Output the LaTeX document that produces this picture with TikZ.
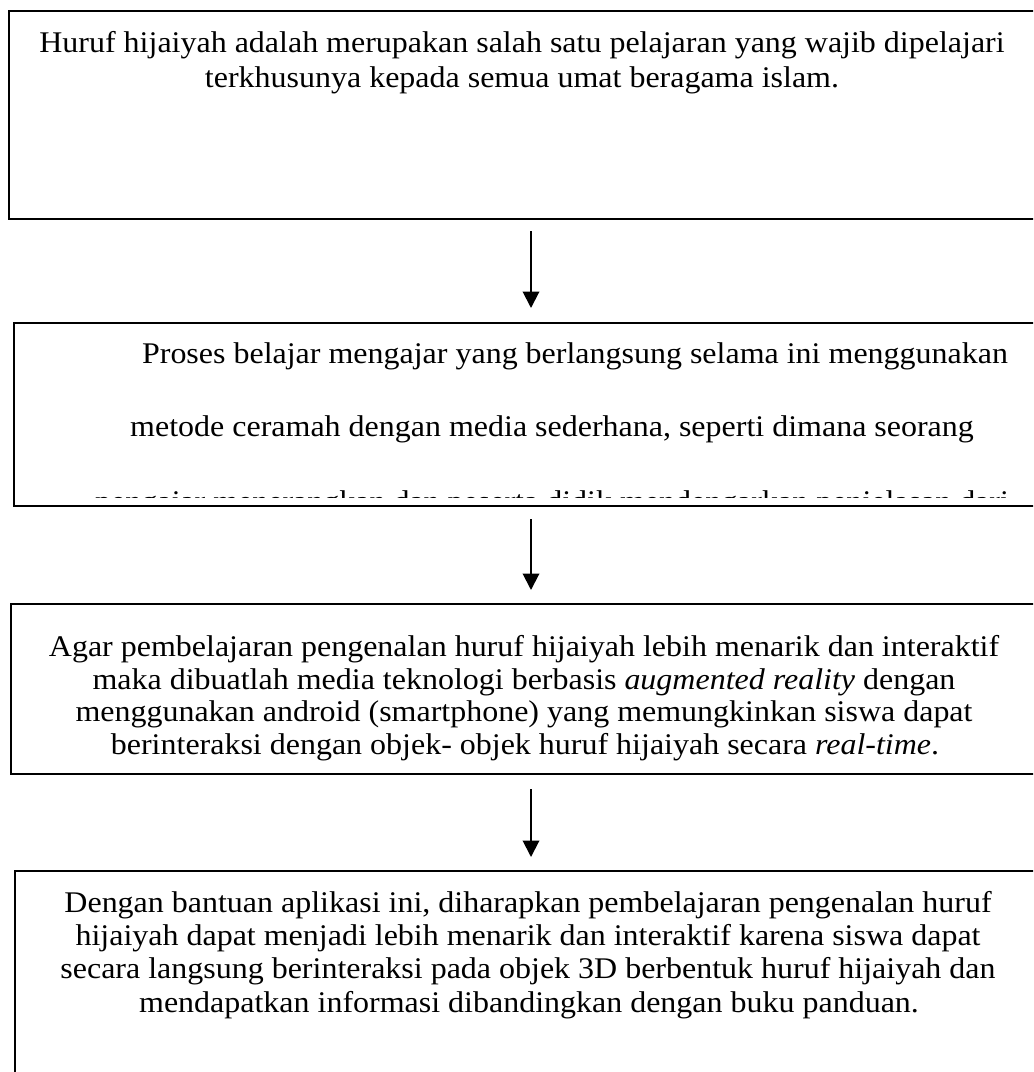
\documentclass[tikz,border=0pt]{standalone}
\usepackage{fontspec}
\setmainfont[FakeStretch=1.066]{Liberation Serif}
\usetikzlibrary{arrows.meta}
\tikzset{
  box/.style={draw=black, line width=0.9pt, rectangle, inner sep=0pt, anchor=north west},
  txt/.style={inner sep=0pt, anchor=base, font=\fontsize{12}{14}\selectfont},
  arr/.style={draw=black, line width=0.8pt, -{Triangle[width=6.6pt,length=6.6pt]}}
}
\begin{document}
\begin{tikzpicture}[x=0.4pt,y=-0.4pt]
\useasboundingbox (0,0) rectangle (1033,1072);
\clip (0,0) rectangle (1033,1072);
% boxes
\node[box, minimum width=1092*0.4pt, minimum height=208*0.4pt] (b1) at (8,10) {};
\node[box, minimum width=1087*0.4pt, minimum height=183*0.4pt] (b2) at (13,322) {};
\node[box, minimum width=1090*0.4pt, minimum height=170*0.4pt] (b3) at (10,603) {};
\node[box, minimum width=1086*0.4pt, minimum height=250*0.4pt] (b4) at (14,870) {};
% box 1 text
\node[txt] (t11) at (522,53) {Huruf hijaiyah adalah merupakan salah satu pelajaran yang wajib dipelajari};
\node[txt] (t12) at (522,88) {terkhusunya kepada semua umat beragama islam.};
% box 2 text (clipped)
\begin{scope}
\clip (13,322) rectangle (1100,497);
\node[txt] (t21) at (575,363) {Proses belajar mengajar yang berlangsung selama ini menggunakan};
\node[txt] (t22) at (552,436) {metode ceramah dengan media sederhana, seperti dimana seorang};
\node[txt] (t23) at (552,511) {pengajar menerangkan dan peserta didik mendengarkan penjelasan dari};
\end{scope}
% box 3 text
\node[txt] (t31) at (524,656) {Agar pembelajaran pengenalan huruf hijaiyah lebih menarik dan interaktif};
\node[txt] (t32) at (524,689) {maka dibuatlah media teknologi berbasis \textit{augmented reality} dengan};
\node[txt] (t33) at (524,721) {menggunakan android (smartphone) yang memungkinkan siswa dapat};
\node[txt] (t34) at (525,754) {berinteraksi dengan objek- objek huruf hijaiyah secara \textit{real-time}.};
% box 4 text
\node[txt] (t41) at (528,912) {Dengan bantuan aplikasi ini, diharapkan pembelajaran pengenalan huruf};
\node[txt] (t42) at (528,945) {hijaiyah dapat menjadi lebih menarik dan interaktif karena siswa dapat};
\node[txt] (t43) at (528,978) {secara langsung berinteraksi pada objek 3D berbentuk huruf hijaiyah dan};
\node[txt] (t44) at (529,1012) {mendapatkan informasi dibandingkan dengan buku panduan.};
% arrows
\coordinate (ax) at (531,0);
\draw[arr, shorten <=4.4pt, shorten >=5.6pt] (b1.south west -| ax) -- (b2.north west -| ax);
\draw[arr, shorten <=4.8pt, shorten >=5.2pt] (b2.south west -| ax) -- (b3.north west -| ax);
\draw[arr, shorten <=5.6pt, shorten >=5.2pt] (b3.south west -| ax) -- (b4.north west -| ax);
\end{tikzpicture}
\end{document}
